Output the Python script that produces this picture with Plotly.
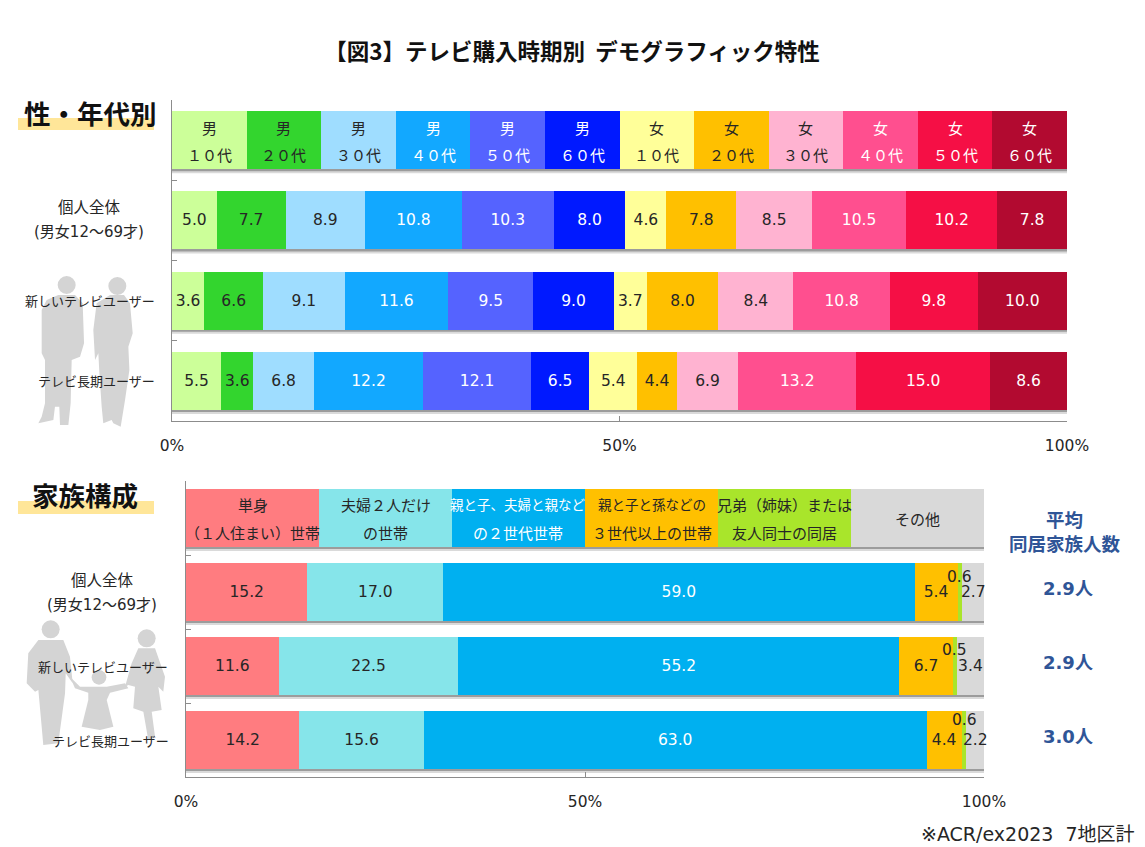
import plotly.graph_objects as go

W, H = 1145, 847
FONT = "DejaVu Sans, Noto Sans CJK JP, sans-serif"
CJK = "Noto Sans CJK JP, sans-serif"
TXT = "#262626"
BLUE = "#2F5597"
SIL = "#D4D4D4"
AXIS = "#8C8C8C"

# top chart: sex / age
age_head1 = ["男", "男", "男", "男", "男", "男", "女", "女", "女", "女", "女", "女"]
age_head2 = ["１０代", "２０代", "３０代", "４０代", "５０代", "６０代",
             "１０代", "２０代", "３０代", "４０代", "５０代", "６０代"]
age_share = [8.33, 8.34, 8.33, 8.33, 8.34, 8.33, 8.33, 8.34, 8.33, 8.33, 8.34, 8.33]
age_all = [5.0, 7.7, 8.9, 10.8, 10.3, 8.0, 4.6, 7.8, 8.5, 10.5, 10.2, 7.8]
age_new = [3.6, 6.6, 9.1, 11.6, 9.5, 9.0, 3.7, 8.0, 8.4, 10.8, 9.8, 10.0]
age_long = [5.5, 3.6, 6.8, 12.2, 12.1, 6.5, 5.4, 4.4, 6.9, 13.2, 15.0, 8.6]
age_colors = ["#CCFF99", "#33D52E", "#9FDDFF", "#12A8FF", "#5563FF", "#0019FF",
              "#FFFF99", "#FFC000", "#FFB3D1", "#FF4F8F", "#F50F45", "#B20A30"]
age_text = [TXT, TXT, TXT, "white", "white", "white", TXT, TXT, TXT, "white", "white", "white"]

# bottom chart: household
fam_head1 = ["単身", "夫婦２人だけ", "親と子、夫婦と親など", "親と子と孫などの", "兄弟（姉妹）または", "その他"]
fam_head2 = ["（１人住まい）世帯", "の世帯", "の２世代世帯", "３世代以上の世帯", "友人同士の同居", ""]
fam_share = [16.67, 16.66, 16.67, 16.67, 16.66, 16.67]
fam_all = [15.2, 17.0, 59.0, 5.4, 0.6, 2.7]
fam_new = [11.6, 22.5, 55.2, 6.7, 0.5, 3.4]
fam_long = [14.2, 15.6, 63.0, 4.4, 0.6, 2.2]
fam_colors = ["#FF7C80", "#86E5EA", "#00B0F0", "#FFC000", "#A9E52B", "#D9D9D9"]
fam_text = [TXT, TXT, "white", TXT, TXT, TXT]
family_size = ["2.9人", "2.9人", "3.0人"]

row_ids = [0, 1, 2, 3]
row_names = ["個人全体", "新しいテレビユーザー", "テレビ長期ユーザー"]
pct_ticks = [0, 50, 100]


def px(x, y):
    return x / W, 1 - y / H


def poly(points, ox, oy, scale=3):
    out = []
    for i, (x, y) in enumerate(points):
        a, b = px(ox + x / scale, oy + y / scale)
        out.append(("M" if i == 0 else "L") + f"{a:.4f},{b:.4f}")
    return dict(type="path", xref="paper", yref="paper", path=" ".join(out) + " Z",
                fillcolor=SIL, line=dict(width=0), layer="below")


def head(cx, cy, r, ox, oy, scale=3):
    x0, y0 = px(ox + (cx - r) / scale, oy + (cy + r) / scale)
    x1, y1 = px(ox + (cx + r) / scale, oy + (cy - r) / scale)
    return dict(type="circle", xref="paper", yref="paper", x0=x0, x1=x1, y0=y0, y1=y1,
                fillcolor=SIL, line=dict(width=0), layer="below")


fig = go.Figure()


def add_stack(share, rows, colors, text_colors, xa, ya, width, skip=()):
    for i, color in enumerate(colors):
        vals = [share[i]] + [r[i] for r in rows]
        labels = [""] + ["" if i in skip else f"{r[i]:.1f}" for r in rows]
        fig.add_trace(go.Bar(x=vals, y=row_ids, orientation="h", width=width,
                             marker=dict(color=color, line=dict(width=0)),
                             text=labels, textposition="inside", insidetextanchor="middle",
                             constraintext="none", cliponaxis=False, textangle=0,
                             textfont=dict(family=FONT, size=15.5, color=text_colors[i]),
                             hoverinfo="skip", showlegend=False, xaxis=xa, yaxis=ya))


add_stack(age_share, [age_all, age_new, age_long], age_colors, age_text, "x", "y", 0.725)
add_stack(fam_share, [fam_all, fam_new, fam_long], fam_colors, fam_text, "x2", "y2", 0.784, skip=(4,))

notes = []


def note(text, x, y, xref="paper", yref="paper", size=15, color=TXT, bold=False, xanchor="center", shift=0, family=FONT):
    if bold:
        text = f"<b>{text}</b>"
    notes.append(dict(text=text, x=x, y=y, xref=xref, yref=yref, showarrow=False, xanchor=xanchor,
                      yanchor="middle", yshift=shift, font=dict(family=family, size=size, color=color)))


# header row texts
pos = 0
for i, share in enumerate(age_share):
    mid = pos + share / 2
    note(age_head1[i], mid, 0, "x", "y", 15, age_text[i], shift=13, family=CJK)
    note(age_head2[i], mid, 0, "x", "y", 15, age_text[i], shift=-14, family=CJK)
    pos += share

pos = 0
for i, share in enumerate(fam_share):
    mid = pos + share / 2
    # the two 親と子 lines are squeezed to fit their cell
    size = 13.5 if fam_head1[i].startswith("親と子") else 15
    if fam_head2[i]:
        note(fam_head1[i], mid, 0, "x2", "y2", size, fam_text[i], shift=14, family=CJK)
        note(fam_head2[i], mid, 0, "x2", "y2", 15, fam_text[i], shift=-14, family=CJK)
    else:
        note(fam_head1[i], mid, 0, "x2", "y2", 15, fam_text[i], family=CJK)
    pos += share

# small slice labels sit above the bar centre
for r, (row, up) in enumerate(zip([fam_all, fam_new, fam_long], [15, 16, 20])):
    mid = sum(row[:4]) + row[4] / 2
    note(f"{row[4]:.1f}", mid, r + 1, "x2", "y2", 15.5, shift=up)
    note(family_size[r], 1068 / W, r + 1, "paper", "y2", 18, BLUE, True, shift=4)

# row labels
note("個人全体", 89 / W, 1, "paper", "y", 15.5, shift=14, family=CJK)
note("(男女12～69才)", 89 / W, 1, "paper", "y", 15, shift=-12)
note(row_names[1], 157 / W, 2, "paper", "y", 13, xanchor="right", family=CJK)
note(row_names[2], 157 / W, 3, "paper", "y", 13, xanchor="right", family=CJK)
note("個人全体", 102 / W, 1, "paper", "y2", 15.5, shift=13, family=CJK)
note("(男女12～69才)", 102 / W, 1, "paper", "y2", 15, shift=-13)
note(row_names[1], 170 / W, 2, "paper", "y2", 13, xanchor="right", family=CJK)
note(row_names[2], 171 / W, 3, "paper", "y2", 13, xanchor="right", family=CJK)

# section headings etc.
note("性・年代別", 90 / W, 1 - 112 / H, size=26.5, color="#111111", bold=True, family=CJK)
note("家族構成", 85 / W, 1 - 494 / H, size=26.5, color="#111111", bold=True, family=CJK)
note("平均<br>同居家族人数", 1065 / W, 1 - 531 / H, size=18.5, color=BLUE, bold=True, family=CJK)
note("※ACR/ex2023\u00a0\u00a07地区計", 1137 / W, 1 - 834 / H, size=19, xanchor="right")

shapes = []

# soft shadow under every bar
for xa, ya in [("x", "y"), ("x2", "y2")]:
    for r in row_ids:
        for y0, y1, c in [(-33, -30, "#DADADA"), (-31, -28, "#9C9C9C")]:
            shapes.append(dict(type="rect", xref=xa, yref=ya, ysizemode="pixel", yanchor=r,
                               x0=0, x1=100, y0=y0, y1=y1, fillcolor=c,
                               line=dict(width=0), layer="below"))

# label underlines
for y0, y1 in [(118, 130), (501, 514)]:
    x0p, y0p = px(18, y1)
    x1p, y1p = px(154, y0)
    shapes.append(dict(type="rect", xref="paper", yref="paper", x0=x0p, x1=x1p, y0=y0p, y1=y1p,
                       fillcolor="#FFE699", line=dict(width=0), layer="below"))

# silhouettes, couple
shapes.append(head(200, 75, 27, 0, 260))
shapes.append(poly([(175, 105), (225, 105), (248, 130), (252, 250), (240, 290), (215, 300), (212, 430),
                    (205, 495), (180, 495), (178, 440), (165, 440), (160, 480), (115, 490), (125, 470),
                    (135, 430), (135, 300), (125, 280), (125, 150), (140, 120)], 0, 260))
shapes.append(head(352, 78, 27, 0, 260))
shapes.append(poly([(330, 105), (372, 105), (390, 130), (398, 220), (385, 260), (388, 330), (375, 420),
                    (362, 500), (340, 490), (335, 480), (310, 490), (305, 440), (298, 340), (295, 280),
                    (285, 300), (280, 210), (290, 130)], 0, 260))
# silhouettes, family
shapes.append(head(152, 478, 27, 0, 470))
shapes.append(poly([(115, 510), (190, 510), (210, 560), (218, 640), (197, 610), (195, 670), (175, 820),
                    (130, 825), (125, 770), (115, 660), (105, 665), (80, 640), (85, 550)], 0, 470))
shapes.append(head(297, 622, 22, 0, 470))
shapes.append(poly([(210, 620), (240, 650), (275, 650), (320, 650), (375, 640), (385, 655), (330, 668),
                    (320, 690), (340, 770), (300, 780), (245, 770), (265, 690), (265, 668), (225, 655)], 0, 470))
shapes.append(head(440, 505, 27, 0, 470))
shapes.append(poly([(415, 535), (465, 535), (495, 620), (490, 665), (475, 650), (485, 720), (455, 725),
                    (465, 800), (445, 810), (430, 725), (400, 715), (405, 650), (385, 645), (375, 650),
                    (395, 580)], 0, 470))


def xaxis(domain, anchor):
    return dict(domain=domain, range=[0, 100], anchor=anchor, automargin=False,
                showgrid=False, zeroline=False, showline=True, linecolor=AXIS, linewidth=1.2,
                ticks="inside", ticklen=5, tickcolor=AXIS, tickvals=pct_ticks,
                ticktext=["0%", "50%", "100%"], ticklabelstandoff=10,
                tickfont=dict(family=FONT, size=15.5, color=TXT))


def yaxis(domain, anchor):
    return dict(domain=domain, range=[3.5, -0.5], anchor=anchor, automargin=False,
                showgrid=False, zeroline=False, showline=True, linecolor=AXIS, linewidth=1.2,
                ticks="inside", ticklen=5, tickcolor=AXIS,
                tickvals=[-0.5, 0.5, 1.5, 2.5, 3.5], showticklabels=False)


fig.update_layout(
    width=W, height=H, margin=dict(l=0, r=0, t=0, b=0),
    paper_bgcolor="white", plot_bgcolor="rgba(0,0,0,0)",
    barmode="stack", barnorm="percent", showlegend=False,
    title=dict(text="<b>【図3】テレビ購入時期別\u00a0\u00a0デモグラフィック特性</b>", x=572 / W, y=1 - 52 / H,
               xanchor="center", yanchor="middle",
               font=dict(family=CJK, size=22.5, color="#111111")),
    xaxis=xaxis([172 / W, 1067 / W], "y"),
    yaxis=yaxis([1 - 421 / H, 1 - 100 / H], "x"),
    xaxis2=xaxis([186 / W, 984 / W], "y2"),
    yaxis2=yaxis([1 - 777 / H, 1 - 481 / H], "x2"),
    annotations=notes, shapes=shapes,
)

fig.write_html("out.html", config=dict(displayModeBar=False),
               post_script="document.body.style.margin='0';")
